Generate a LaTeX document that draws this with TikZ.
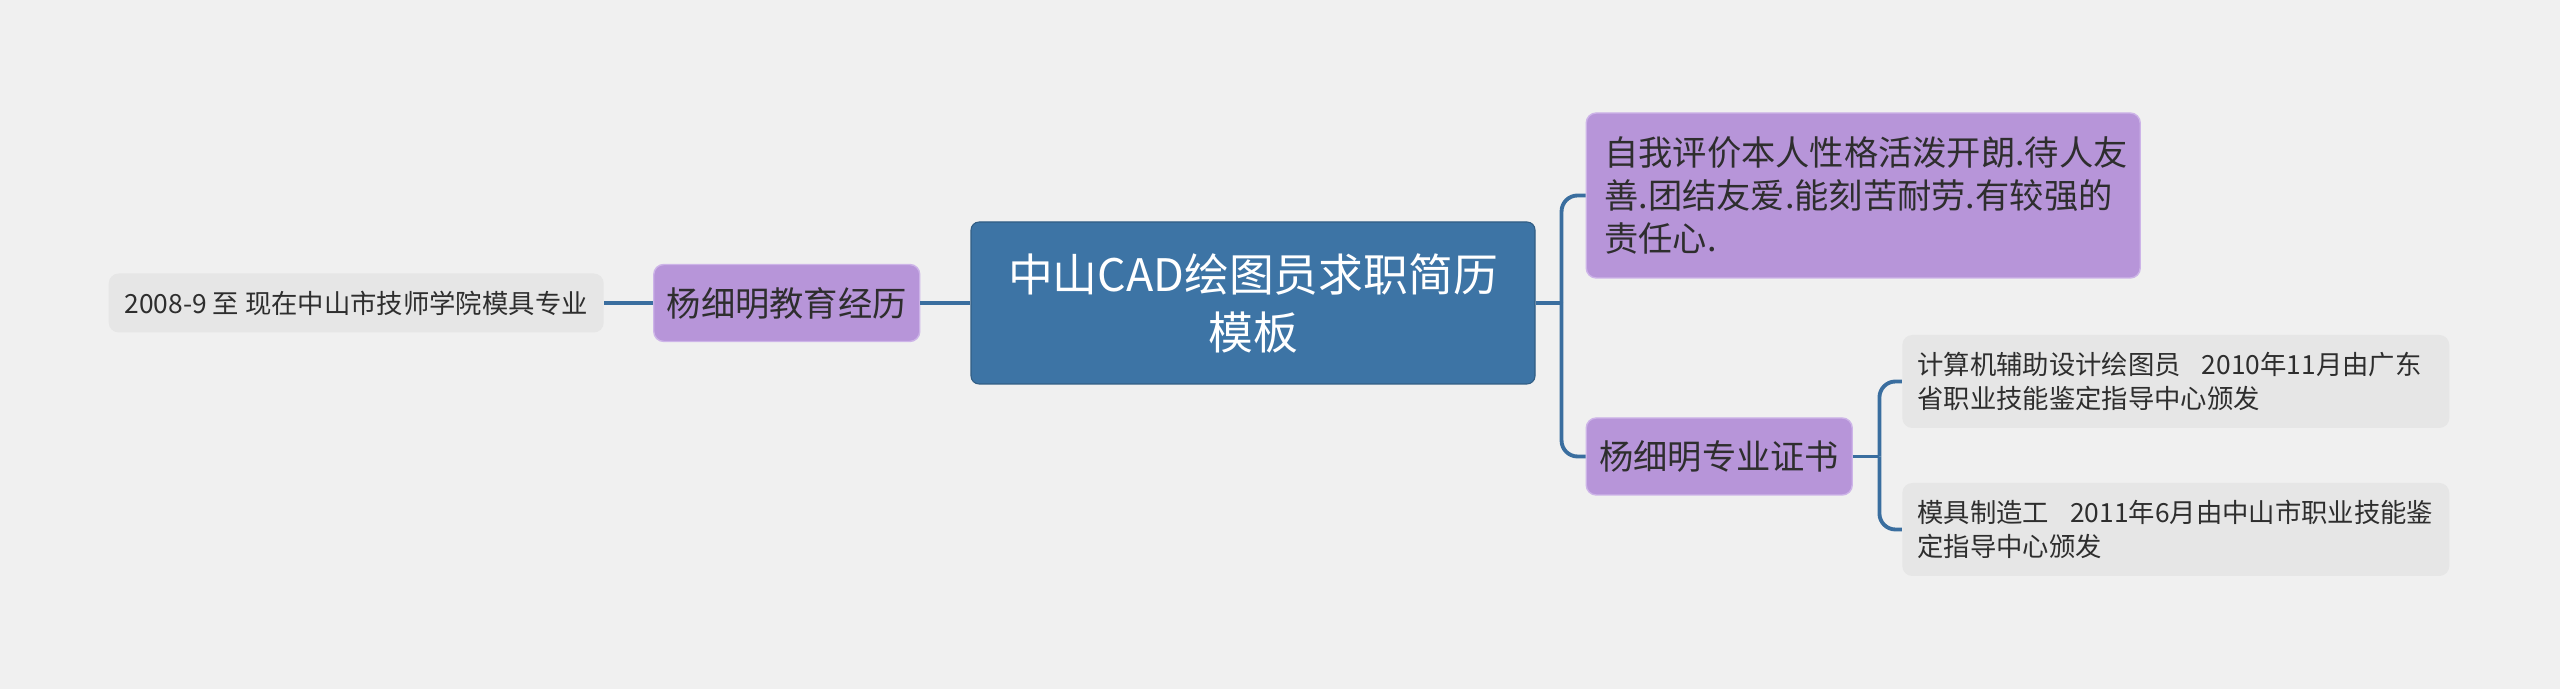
\documentclass[tikz,border=0pt]{standalone}
\usepackage{fontspec}
\newfontfamily\cjk{Noto Sans CJK SC}
\usepackage{xcolor}
\usepackage{tikz}
\usetikzlibrary{positioning}
\definecolor{bgcol}{HTML}{F0F0F0}
\definecolor{rootblue}{HTML}{3D74A5}
\definecolor{linkblue}{HTML}{3A6E9F}
\definecolor{lilac}{HTML}{B795D9}
\definecolor{lilacedge}{HTML}{CDB4E8}
\definecolor{leafgray}{HTML}{E6E6E6}
\definecolor{inkgray}{HTML}{2E2E2E}
\tikzset{
  topic/.style={rectangle, rounded corners=0.16cm, draw=rootblue!80!black, line width=0.6pt, fill=rootblue, text=white, minimum width=11.28cm, minimum height=3.24cm, align=center, font=\cjk\fontsize{25.5}{33}\selectfont},
  branch/.style={rectangle, rounded corners=0.2cm, draw=lilacedge, line width=0.8pt, fill=lilac, text=inkgray, minimum width=5.32cm, minimum height=1.54cm, align=center, font=\cjk\fontsize{19.5}{24.5}\selectfont},
  note/.style={branch, text width=10.36cm, inner xsep=0.36cm, minimum height=3.3cm, align=left},
  leaf/.style={rectangle, rounded corners=0.2cm, draw=none, fill=leafgray, text=inkgray, minimum height=1.18cm, minimum width=9.9cm, align=center, font=\cjk\fontsize{15}{19}\selectfont},
  leafnote/.style={leaf, text width=10.34cm, inner xsep=0.3cm, minimum height=1.86cm, align=left},
  link/.style={draw=linkblue, line width=2.2pt, rounded corners=0.32cm}
}
\begin{document}
\begin{tikzpicture}[node distance=1cm]
  \fill[bgcol] (0,0) rectangle (51.2,13.78);
  \useasboundingbox (0,0) rectangle (51.2,13.78);
  \node[topic] (root) at (25.06,7.72) {中山CAD绘图员求职简历\\模板};
  % left side
  \node[branch, left=of root] (edu) {杨细明教育经历};
  \node[leaf, left=0.98cm of edu] (eduleaf) {2008-9 至 现在中山市技师学院模具专业};
  % right side
  \node[note, right=of root, yshift=2.15cm] (selfeval) {自我评价本人性格活泼开朗.待人友\\善.团结友爱.能刻苦耐劳.有较强的\\责任心.};
  \node[branch, right=of root, yshift=-3.07cm] (cert) {杨细明专业证书};
  \node[leafnote, right=0.98cm of cert, yshift=1.5cm] (certa) {计算机辅助设计绘图员\hspace{0.8em}2010年11月由广东\\省职业技能鉴定指导中心颁发};
  \node[leafnote, right=0.98cm of cert, yshift=-1.46cm] (certb) {模具制造工\hspace{0.8em}2011年6月由中山市职业技能鉴\\定指导中心颁发};
  \coordinate[right=0.52cm of root.east] (rootfork);
  \coordinate[right=0.53cm of cert.east] (certfork);
  \draw[link] (root.west) -- (edu.east);
  \draw[link] (edu.west) -- (eduleaf.east);
  \draw[link] (root.east) -- (rootfork);
  \draw[link] (rootfork) |- (selfeval.west);
  \draw[link] (rootfork) |- (cert.west);
  \draw[link] (cert.east) -- (certfork);
  \draw[link] (certfork) |- (certa.west);
  \draw[link] (certfork) |- (certb.west);
\end{tikzpicture}
\end{document}
